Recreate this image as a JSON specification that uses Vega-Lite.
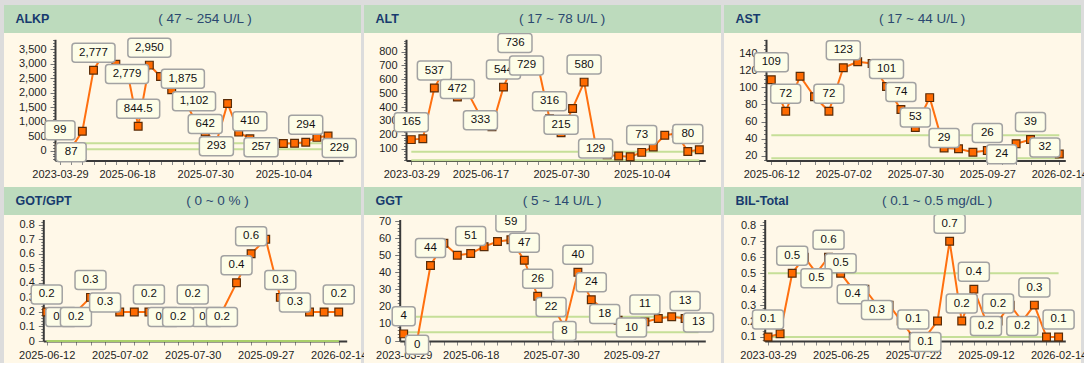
{
"$schema": "https://vega.github.io/schema/vega-lite/v6.json",
"background": "#dcdcdc",
"padding": {"left": 4, "top": 5, "right": 0, "bottom": 0},
"config": {"font": "Liberation Sans", "view": {"stroke": null}},
"columns": 3,
"bounds": "flush",
"spacing": {"row": 0, "column": 3},
"concat": [
{"width": 357, "height": 28, "view": {"fill": "#bddbbd", "stroke": null},
 "data": {"values": [{"name": "ALKP", "range": "( 47 ~ 254 U/L )"}]},
 "layer": [
  {"mark": {"type": "text", "align": "left", "baseline": "middle", "fontSize": 12.5, "fontWeight": "bold", "color": "#173a6e"}, "encoding": {"text": {"field": "name"}, "x": {"datum": 0.032, "type": "quantitative", "scale": {"domain": [0, 1], "nice": false}, "axis": null}}},
  {"mark": {"type": "text", "align": "center", "baseline": "middle", "fontSize": 13.5, "color": "#2b4870"}, "encoding": {"text": {"field": "range"}, "x": {"datum": 0.563, "type": "quantitative", "axis": null}}}
 ]},
{"width": 357, "height": 28, "view": {"fill": "#bddbbd", "stroke": null},
 "data": {"values": [{"name": "ALT", "range": "( 17 ~ 78 U/L )"}]},
 "layer": [
  {"mark": {"type": "text", "align": "left", "baseline": "middle", "fontSize": 12.5, "fontWeight": "bold", "color": "#173a6e"}, "encoding": {"text": {"field": "name"}, "x": {"datum": 0.032, "type": "quantitative", "scale": {"domain": [0, 1], "nice": false}, "axis": null}}},
  {"mark": {"type": "text", "align": "center", "baseline": "middle", "fontSize": 13.5, "color": "#2b4870"}, "encoding": {"text": {"field": "range"}, "x": {"datum": 0.555, "type": "quantitative", "axis": null}}}
 ]},
{"width": 357, "height": 28, "view": {"fill": "#bddbbd", "stroke": null},
 "data": {"values": [{"name": "AST", "range": "( 17 ~ 44 U/L )"}]},
 "layer": [
  {"mark": {"type": "text", "align": "left", "baseline": "middle", "fontSize": 12.5, "fontWeight": "bold", "color": "#173a6e"}, "encoding": {"text": {"field": "name"}, "x": {"datum": 0.032, "type": "quantitative", "scale": {"domain": [0, 1], "nice": false}, "axis": null}}},
  {"mark": {"type": "text", "align": "center", "baseline": "middle", "fontSize": 13.5, "color": "#2b4870"}, "encoding": {"text": {"field": "range"}, "x": {"datum": 0.555, "type": "quantitative", "axis": null}}}
 ]},
{"width": 357, "height": 154, "view": {"fill": "#fff8e8", "stroke": null},
 "data": {"values": [
  {"d":"2023-03-29","v":99,"lbl":"99"},{"d":"2025-06-02","v":87,"lbl":"87"},{"d":"2025-06-05","v":670},{"d":"2025-06-09","v":2777,"lbl":"2,777"},{"d":"2025-06-11","v":3408},{"d":"2025-06-14","v":2980},{"d":"2025-06-18","v":2779,"lbl":"2,779"},{"d":"2025-06-20","v":844.5,"lbl":"844.5"},{"d":"2025-06-23","v":2950,"lbl":"2,950"},{"d":"2025-06-26","v":2560},{"d":"2025-07-01","v":2100},{"d":"2025-07-07","v":1875,"lbl":"1,875"},{"d":"2025-07-16","v":1102,"lbl":"1,102"},{"d":"2025-07-30","v":642,"lbl":"642"},{"d":"2025-08-06","v":293,"lbl":"293"},{"d":"2025-08-13","v":1630},{"d":"2025-08-20","v":640},{"d":"2025-08-27","v":410,"lbl":"410"},{"d":"2025-09-03","v":257,"lbl":"257"},{"d":"2025-09-17","v":248},{"d":"2025-10-04","v":250},{"d":"2025-10-25","v":255},{"d":"2025-11-15","v":294,"lbl":"294"},{"d":"2025-12-06","v":460},{"d":"2026-01-10","v":510},{"d":"2026-02-14","v":229,"lbl":"229"}]},
 "encoding": {
  "x": {"field": "d", "type": "ordinal", "scale": {"type": "point", "range": [51, 339], "padding": 0.392, "align": 0.571},
   "axis": {"orient": "bottom", "offset": -26.5, "title": null, "labelAngle": 0, "labelOverlap": false, "labelExpr": "indexof(['2023-03-29','2025-06-18','2025-07-30','2025-10-04'], datum.label) >= 0 ? datum.label : ''", "tickSize": 4, "tickColor": "#8a8a8a", "domainColor": "#3a3a3a", "domainWidth": 2, "labelFontSize": 11, "labelColor": "#1e1e1e", "labelPadding": 4, "grid": false}},
  "y": {"field": "v", "type": "quantitative", "scale": {"domain": [-338, 3841], "range": [127.5, 6.3], "zero": false, "nice": false},
   "axis": {"orient": "left", "offset": -51, "title": null, "tickCount": 40, "labelOverlap": false, "labelExpr": "datum.value % 500 === 0 ? datum.label : ''", "tickSize": {"condition": {"test": "datum.value % 500 === 0", "value": 5}, "value": 2.5}, "tickColor": "#777777", "domainColor": "#3a3a3a", "domainWidth": 2, "labelFontSize": 11, "labelColor": "#1e1e1e", "labelPadding": 4, "grid": false}}
 },
 "layer": [
  {"data": {"values": [{"d": "2023-03-29", "v": 47, "g": "lo"}, {"d": "2026-02-14", "v": 47, "g": "lo"}, {"d": "2023-03-29", "v": 254, "g": "hi"}, {"d": "2026-02-14", "v": 254, "g": "hi"}]}, "mark": {"type": "line", "color": "#c6df98", "strokeWidth": 2, "clip": true}, "encoding": {"detail": {"field": "g"}}},
  {"mark": {"type": "line", "color": "#ff7010", "strokeWidth": 2, "clip": true}},
  {"mark": {"type": "point", "shape": "square", "filled": true, "size": 60, "fill": "#ff6a00", "stroke": "#5a2c08", "strokeWidth": 1.2, "opacity": 1, "clip": true}},
  {"transform": [{"filter": "isValid(datum.lbl) && indexof(['2025-06-02','2025-06-18','2025-08-06','2025-09-03','2026-02-14','2025-07-30'], datum.d) < 0"}],
   "mark": {"type": "point", "filled": true, "size": 10000, "fill": "#fdfde8", "stroke": "#a2a2a2", "strokeWidth": 1.5, "opacity": 1, "yOffset": -17.5, "clip": true},
   "encoding": {"shape": {"condition": [{"test": "length(datum.lbl) == 1", "value": "M-0.17,-0.19H0.17Q0.23,-0.19 0.23,-0.13V0.13Q0.23,0.19 0.17,0.19H-0.17Q-0.23,0.19 -0.23,0.13V-0.13Q-0.23,-0.19 -0.17,-0.19Z"}, {"test": "length(datum.lbl) == 2", "value": "M-0.24,-0.19H0.24Q0.3,-0.19 0.3,-0.13V0.13Q0.3,0.19 0.24,0.19H-0.24Q-0.3,0.19 -0.3,0.13V-0.13Q-0.3,-0.19 -0.24,-0.19Z"}, {"test": "length(datum.lbl) >= 5", "value": "M-0.37,-0.19H0.37Q0.43,-0.19 0.43,-0.13V0.13Q0.43,0.19 0.37,0.19H-0.37Q-0.43,0.19 -0.43,0.13V-0.13Q-0.43,-0.19 -0.37,-0.19Z"}, {"test": "indexof(datum.lbl, '.') >= 0", "value": "M-0.25,-0.19H0.25Q0.31,-0.19 0.31,-0.13V0.13Q0.31,0.19 0.25,0.19H-0.25Q-0.31,0.19 -0.31,0.13V-0.13Q-0.31,-0.19 -0.25,-0.19Z"}], "value": "M-0.28,-0.19H0.28Q0.34,-0.19 0.34,-0.13V0.13Q0.34,0.19 0.28,0.19H-0.28Q-0.34,0.19 -0.34,0.13V-0.13Q-0.34,-0.19 -0.28,-0.19Z"}}},
  {"transform": [{"filter": "isValid(datum.lbl) && indexof(['2025-06-02','2025-06-18','2025-08-06','2025-09-03','2026-02-14','2025-07-30'], datum.d) < 0"}],
   "mark": {"type": "text", "fontSize": 11.5, "color": "#111111", "baseline": "middle", "align": "center", "yOffset": -17.5, "clip": true}, "encoding": {"text": {"field": "lbl"}}},
  {"transform": [{"filter": "indexof(['2025-07-30'], datum.d) >= 0"}],
   "mark": {"type": "point", "filled": true, "size": 10000, "fill": "#fdfde8", "stroke": "#a2a2a2", "strokeWidth": 1.5, "opacity": 1, "yOffset": -8, "clip": true},
   "encoding": {"shape": {"value": "M-0.28,-0.19H0.28Q0.34,-0.19 0.34,-0.13V0.13Q0.34,0.19 0.28,0.19H-0.28Q-0.34,0.19 -0.34,0.13V-0.13Q-0.34,-0.19 -0.28,-0.19Z"}}},
  {"transform": [{"filter": "indexof(['2025-07-30'], datum.d) >= 0"}],
   "mark": {"type": "text", "fontSize": 11.5, "color": "#111111", "baseline": "middle", "align": "center", "yOffset": -8, "clip": true}, "encoding": {"text": {"field": "lbl"}}},
  {"transform": [{"filter": "indexof(['2025-06-02','2025-06-18','2025-08-06','2025-09-03','2026-02-14'], datum.d) >= 0"}],
   "mark": {"type": "point", "filled": true, "size": 10000, "fill": "#fdfde8", "stroke": "#a2a2a2", "strokeWidth": 1.5, "opacity": 1, "yOffset": 4, "clip": true},
   "encoding": {"shape": {"condition": [{"test": "length(datum.lbl) == 1", "value": "M-0.17,-0.19H0.17Q0.23,-0.19 0.23,-0.13V0.13Q0.23,0.19 0.17,0.19H-0.17Q-0.23,0.19 -0.23,0.13V-0.13Q-0.23,-0.19 -0.17,-0.19Z"}, {"test": "length(datum.lbl) == 2", "value": "M-0.24,-0.19H0.24Q0.3,-0.19 0.3,-0.13V0.13Q0.3,0.19 0.24,0.19H-0.24Q-0.3,0.19 -0.3,0.13V-0.13Q-0.3,-0.19 -0.24,-0.19Z"}, {"test": "length(datum.lbl) >= 5", "value": "M-0.37,-0.19H0.37Q0.43,-0.19 0.43,-0.13V0.13Q0.43,0.19 0.37,0.19H-0.37Q-0.43,0.19 -0.43,0.13V-0.13Q-0.43,-0.19 -0.37,-0.19Z"}, {"test": "indexof(datum.lbl, '.') >= 0", "value": "M-0.25,-0.19H0.25Q0.31,-0.19 0.31,-0.13V0.13Q0.31,0.19 0.25,0.19H-0.25Q-0.31,0.19 -0.31,0.13V-0.13Q-0.31,-0.19 -0.25,-0.19Z"}], "value": "M-0.28,-0.19H0.28Q0.34,-0.19 0.34,-0.13V0.13Q0.34,0.19 0.28,0.19H-0.28Q-0.34,0.19 -0.34,0.13V-0.13Q-0.34,-0.19 -0.28,-0.19Z"}}},
  {"transform": [{"filter": "indexof(['2025-06-02','2025-06-18','2025-08-06','2025-09-03','2026-02-14'], datum.d) >= 0"}],
   "mark": {"type": "text", "fontSize": 11.5, "color": "#111111", "baseline": "middle", "align": "center", "yOffset": 4, "clip": true}, "encoding": {"text": {"field": "lbl"}}}
 ]},
{"width": 357, "height": 154, "view": {"fill": "#fff8e8", "stroke": null},
 "data": {"values": [
  {"d":"2023-03-29","v":165,"lbl":"165"},{"d":"2025-06-02","v":172},{"d":"2025-06-05","v":537,"lbl":"537"},{"d":"2025-06-09","v":690},{"d":"2025-06-11","v":472,"lbl":"472"},{"d":"2025-06-14","v":490},{"d":"2025-06-17","v":333,"lbl":"333"},{"d":"2025-06-20","v":258},{"d":"2025-06-23","v":544,"lbl":"544"},{"d":"2025-06-26","v":736,"lbl":"736"},{"d":"2025-07-01","v":729,"lbl":"729"},{"d":"2025-07-07","v":700},{"d":"2025-07-16","v":316,"lbl":"316"},{"d":"2025-07-30","v":215,"lbl":"215"},{"d":"2025-08-06","v":390},{"d":"2025-08-13","v":580,"lbl":"580"},{"d":"2025-08-20","v":129,"lbl":"129"},{"d":"2025-08-27","v":55},{"d":"2025-09-03","v":47},{"d":"2025-09-17","v":42},{"d":"2025-10-04","v":73,"lbl":"73"},{"d":"2025-10-25","v":112},{"d":"2025-11-15","v":196},{"d":"2025-12-06","v":210},{"d":"2026-01-10","v":80,"lbl":"80"},{"d":"2026-02-14","v":92}]},
 "encoding": {
  "x": {"field": "d", "type": "ordinal", "scale": {"type": "point", "range": [42, 341.3], "padding": 0.49, "align": 0.47},
   "axis": {"orient": "bottom", "offset": -26.5, "title": null, "labelAngle": 0, "labelOverlap": false, "labelExpr": "indexof(['2023-03-29','2025-06-17','2025-07-30','2025-10-04'], datum.label) >= 0 ? datum.label : ''", "tickSize": 4, "tickColor": "#8a8a8a", "domainColor": "#3a3a3a", "domainWidth": 2, "labelFontSize": 11, "labelColor": "#1e1e1e", "labelPadding": 4, "grid": false}},
  "y": {"field": "v", "type": "quantitative", "scale": {"domain": [14.4, 888.9], "range": [127.5, 6.3], "zero": false, "nice": false},
   "axis": {"orient": "left", "offset": -42, "title": null, "tickCount": 40, "labelOverlap": false, "labelExpr": "datum.value % 100 === 0 ? datum.label : ''", "tickSize": {"condition": {"test": "datum.value % 100 === 0", "value": 5}, "value": 2.5}, "tickColor": "#777777", "domainColor": "#3a3a3a", "domainWidth": 2, "labelFontSize": 11, "labelColor": "#1e1e1e", "labelPadding": 4, "grid": false}}
 },
 "layer": [
  {"data": {"values": [{"d": "2023-03-29", "v": 17, "g": "lo"}, {"d": "2026-02-14", "v": 17, "g": "lo"}, {"d": "2023-03-29", "v": 78, "g": "hi"}, {"d": "2026-02-14", "v": 78, "g": "hi"}]}, "mark": {"type": "line", "color": "#c6df98", "strokeWidth": 2, "clip": true}, "encoding": {"detail": {"field": "g"}}},
  {"mark": {"type": "line", "color": "#ff7010", "strokeWidth": 2, "clip": true}},
  {"mark": {"type": "point", "shape": "square", "filled": true, "size": 60, "fill": "#ff6a00", "stroke": "#5a2c08", "strokeWidth": 1.2, "opacity": 1, "clip": true}},
  {"transform": [{"filter": "isValid(datum.lbl) && indexof(['2025-06-17','2025-07-01','2025-08-20','2025-06-11','2025-07-30'], datum.d) < 0"}],
   "mark": {"type": "point", "filled": true, "size": 10000, "fill": "#fdfde8", "stroke": "#a2a2a2", "strokeWidth": 1.5, "opacity": 1, "yOffset": -17.5, "clip": true},
   "encoding": {"shape": {"condition": [{"test": "length(datum.lbl) == 1", "value": "M-0.17,-0.19H0.17Q0.23,-0.19 0.23,-0.13V0.13Q0.23,0.19 0.17,0.19H-0.17Q-0.23,0.19 -0.23,0.13V-0.13Q-0.23,-0.19 -0.17,-0.19Z"}, {"test": "length(datum.lbl) == 2", "value": "M-0.24,-0.19H0.24Q0.3,-0.19 0.3,-0.13V0.13Q0.3,0.19 0.24,0.19H-0.24Q-0.3,0.19 -0.3,0.13V-0.13Q-0.3,-0.19 -0.24,-0.19Z"}], "value": "M-0.28,-0.19H0.28Q0.34,-0.19 0.34,-0.13V0.13Q0.34,0.19 0.28,0.19H-0.28Q-0.34,0.19 -0.34,0.13V-0.13Q-0.34,-0.19 -0.28,-0.19Z"}}},
  {"transform": [{"filter": "isValid(datum.lbl) && indexof(['2025-06-17','2025-07-01','2025-08-20','2025-06-11','2025-07-30'], datum.d) < 0"}],
   "mark": {"type": "text", "fontSize": 11.5, "color": "#111111", "baseline": "middle", "align": "center", "yOffset": -17.5, "clip": true}, "encoding": {"text": {"field": "lbl"}}},
  {"transform": [{"filter": "indexof(['2025-06-11','2025-07-30'], datum.d) >= 0"}],
   "mark": {"type": "point", "filled": true, "size": 10000, "fill": "#fdfde8", "stroke": "#a2a2a2", "strokeWidth": 1.5, "opacity": 1, "yOffset": -8, "clip": true},
   "encoding": {"shape": {"value": "M-0.28,-0.19H0.28Q0.34,-0.19 0.34,-0.13V0.13Q0.34,0.19 0.28,0.19H-0.28Q-0.34,0.19 -0.34,0.13V-0.13Q-0.34,-0.19 -0.28,-0.19Z"}}},
  {"transform": [{"filter": "indexof(['2025-06-11','2025-07-30'], datum.d) >= 0"}],
   "mark": {"type": "text", "fontSize": 11.5, "color": "#111111", "baseline": "middle", "align": "center", "yOffset": -8, "clip": true}, "encoding": {"text": {"field": "lbl"}}},
  {"transform": [{"filter": "indexof(['2025-06-17','2025-07-01','2025-08-20'], datum.d) >= 0"}],
   "mark": {"type": "point", "filled": true, "size": 10000, "fill": "#fdfde8", "stroke": "#a2a2a2", "strokeWidth": 1.5, "opacity": 1, "yOffset": 4, "clip": true},
   "encoding": {"shape": {"value": "M-0.28,-0.19H0.28Q0.34,-0.19 0.34,-0.13V0.13Q0.34,0.19 0.28,0.19H-0.28Q-0.34,0.19 -0.34,0.13V-0.13Q-0.34,-0.19 -0.28,-0.19Z"}}},
  {"transform": [{"filter": "indexof(['2025-06-17','2025-07-01','2025-08-20'], datum.d) >= 0"}],
   "mark": {"type": "text", "fontSize": 11.5, "color": "#111111", "baseline": "middle", "align": "center", "yOffset": 4, "clip": true}, "encoding": {"text": {"field": "lbl"}}}
 ]},
{"width": 357, "height": 154, "view": {"fill": "#fff8e8", "stroke": null},
 "data": {"values": [
  {"d":"2025-06-12","v":109,"lbl":"109"},{"d":"2025-06-14","v":72,"lbl":"72"},{"d":"2025-06-17","v":113},{"d":"2025-06-20","v":89},{"d":"2025-06-25","v":72,"lbl":"72"},{"d":"2025-07-02","v":123,"lbl":"123"},{"d":"2025-07-07","v":130},{"d":"2025-07-11","v":128},{"d":"2025-07-16","v":101,"lbl":"101"},{"d":"2025-07-23","v":74,"lbl":"74"},{"d":"2025-07-30","v":53,"lbl":"53"},{"d":"2025-08-06","v":88},{"d":"2025-08-13","v":29,"lbl":"29"},{"d":"2025-08-20","v":28},{"d":"2025-09-03","v":24},{"d":"2025-09-27","v":26,"lbl":"26"},{"d":"2025-10-25","v":24,"lbl":"24"},{"d":"2025-11-15","v":34},{"d":"2025-12-06","v":39,"lbl":"39"},{"d":"2026-01-10","v":32,"lbl":"32"},{"d":"2026-02-14","v":22}]},
 "encoding": {
  "x": {"field": "d", "type": "ordinal", "scale": {"type": "point", "range": [42, 341.3], "padding": 0.392, "align": 0.47},
   "axis": {"orient": "bottom", "offset": -26.5, "title": null, "labelAngle": 0, "labelOverlap": false, "labelExpr": "indexof(['2025-06-12','2025-07-02','2025-07-30','2025-09-27','2026-02-14'], datum.label) >= 0 ? datum.label : ''", "tickSize": 4, "tickColor": "#8a8a8a", "domainColor": "#3a3a3a", "domainWidth": 2, "labelFontSize": 11, "labelColor": "#1e1e1e", "labelPadding": 4, "grid": false}},
  "y": {"field": "v", "type": "quantitative", "scale": {"domain": [14.33, 156.3], "range": [127.5, 6.3], "zero": false, "nice": false},
   "axis": {"orient": "left", "offset": -42, "title": null, "tickCount": 40, "labelOverlap": false, "labelExpr": "datum.value % 20 === 0 ? datum.label : ''", "tickSize": {"condition": {"test": "datum.value % 20 === 0", "value": 5}, "value": 2.5}, "tickColor": "#777777", "domainColor": "#3a3a3a", "domainWidth": 2, "labelFontSize": 11, "labelColor": "#1e1e1e", "labelPadding": 4, "grid": false}}
 },
 "layer": [
  {"data": {"values": [{"d": "2025-06-12", "v": 17, "g": "lo"}, {"d": "2026-02-14", "v": 17, "g": "lo"}, {"d": "2025-06-12", "v": 44, "g": "hi"}, {"d": "2026-02-14", "v": 44, "g": "hi"}]}, "mark": {"type": "line", "color": "#c6df98", "strokeWidth": 2, "clip": true}, "encoding": {"detail": {"field": "g"}}},
  {"mark": {"type": "line", "color": "#ff7010", "strokeWidth": 2, "clip": true}},
  {"mark": {"type": "point", "shape": "square", "filled": true, "size": 60, "fill": "#ff6a00", "stroke": "#5a2c08", "strokeWidth": 1.2, "opacity": 1, "clip": true}},
  {"transform": [{"filter": "isValid(datum.lbl) && indexof(['2025-10-25','2026-01-10','2025-07-30','2025-08-13'], datum.d) < 0"}],
   "mark": {"type": "point", "filled": true, "size": 10000, "fill": "#fdfde8", "stroke": "#a2a2a2", "strokeWidth": 1.5, "opacity": 1, "yOffset": -17.5, "clip": true},
   "encoding": {"shape": {"condition": [{"test": "length(datum.lbl) == 2", "value": "M-0.24,-0.19H0.24Q0.3,-0.19 0.3,-0.13V0.13Q0.3,0.19 0.24,0.19H-0.24Q-0.3,0.19 -0.3,0.13V-0.13Q-0.3,-0.19 -0.24,-0.19Z"}], "value": "M-0.28,-0.19H0.28Q0.34,-0.19 0.34,-0.13V0.13Q0.34,0.19 0.28,0.19H-0.28Q-0.34,0.19 -0.34,0.13V-0.13Q-0.34,-0.19 -0.28,-0.19Z"}}},
  {"transform": [{"filter": "isValid(datum.lbl) && indexof(['2025-10-25','2026-01-10','2025-07-30','2025-08-13'], datum.d) < 0"}],
   "mark": {"type": "text", "fontSize": 11.5, "color": "#111111", "baseline": "middle", "align": "center", "yOffset": -17.5, "clip": true}, "encoding": {"text": {"field": "lbl"}}},
  {"transform": [{"filter": "indexof(['2025-07-30','2025-08-13'], datum.d) >= 0"}],
   "mark": {"type": "point", "filled": true, "size": 10000, "fill": "#fdfde8", "stroke": "#a2a2a2", "strokeWidth": 1.5, "opacity": 1, "yOffset": -10, "clip": true},
   "encoding": {"shape": {"value": "M-0.24,-0.19H0.24Q0.3,-0.19 0.3,-0.13V0.13Q0.3,0.19 0.24,0.19H-0.24Q-0.3,0.19 -0.3,0.13V-0.13Q-0.3,-0.19 -0.24,-0.19Z"}}},
  {"transform": [{"filter": "indexof(['2025-07-30','2025-08-13'], datum.d) >= 0"}],
   "mark": {"type": "text", "fontSize": 11.5, "color": "#111111", "baseline": "middle", "align": "center", "yOffset": -10, "clip": true}, "encoding": {"text": {"field": "lbl"}}},
  {"transform": [{"filter": "indexof(['2025-10-25','2026-01-10'], datum.d) >= 0"}],
   "mark": {"type": "point", "filled": true, "size": 10000, "fill": "#fdfde8", "stroke": "#a2a2a2", "strokeWidth": 1.5, "opacity": 1, "yOffset": 2, "clip": true},
   "encoding": {"shape": {"value": "M-0.24,-0.19H0.24Q0.3,-0.19 0.3,-0.13V0.13Q0.3,0.19 0.24,0.19H-0.24Q-0.3,0.19 -0.3,0.13V-0.13Q-0.3,-0.19 -0.24,-0.19Z"}}},
  {"transform": [{"filter": "indexof(['2025-10-25','2026-01-10'], datum.d) >= 0"}],
   "mark": {"type": "text", "fontSize": 11.5, "color": "#111111", "baseline": "middle", "align": "center", "yOffset": 2, "clip": true}, "encoding": {"text": {"field": "lbl"}}}
 ]},
{"width": 357, "height": 28, "view": {"fill": "#bddbbd", "stroke": null},
 "data": {"values": [{"name": "GOT/GPT", "range": "( 0 ~ 0 % )"}]},
 "layer": [
  {"mark": {"type": "text", "align": "left", "baseline": "middle", "fontSize": 12.5, "fontWeight": "bold", "color": "#173a6e"}, "encoding": {"text": {"field": "name"}, "x": {"datum": 0.032, "type": "quantitative", "scale": {"domain": [0, 1], "nice": false}, "axis": null}}},
  {"mark": {"type": "text", "align": "center", "baseline": "middle", "fontSize": 13.5, "color": "#2b4870"}, "encoding": {"text": {"field": "range"}, "x": {"datum": 0.598, "type": "quantitative", "axis": null}}}
 ]},
{"width": 357, "height": 28, "view": {"fill": "#bddbbd", "stroke": null},
 "data": {"values": [{"name": "GGT", "range": "( 5 ~ 14 U/L )"}]},
 "layer": [
  {"mark": {"type": "text", "align": "left", "baseline": "middle", "fontSize": 12.5, "fontWeight": "bold", "color": "#173a6e"}, "encoding": {"text": {"field": "name"}, "x": {"datum": 0.032, "type": "quantitative", "scale": {"domain": [0, 1], "nice": false}, "axis": null}}},
  {"mark": {"type": "text", "align": "center", "baseline": "middle", "fontSize": 13.5, "color": "#2b4870"}, "encoding": {"text": {"field": "range"}, "x": {"datum": 0.555, "type": "quantitative", "axis": null}}}
 ]},
{"width": 357, "height": 28, "view": {"fill": "#bddbbd", "stroke": null},
 "data": {"values": [{"name": "BIL-Total", "range": "( 0.1 ~ 0.5 mg/dL )"}]},
 "layer": [
  {"mark": {"type": "text", "align": "left", "baseline": "middle", "fontSize": 12.5, "fontWeight": "bold", "color": "#173a6e"}, "encoding": {"text": {"field": "name"}, "x": {"datum": 0.032, "type": "quantitative", "scale": {"domain": [0, 1], "nice": false}, "axis": null}}},
  {"mark": {"type": "text", "align": "center", "baseline": "middle", "fontSize": 13.5, "color": "#2b4870"}, "encoding": {"text": {"field": "range"}, "x": {"datum": 0.597, "type": "quantitative", "axis": null}}}
 ]},
{"width": 357, "height": 148, "view": {"fill": "#fff8e8", "stroke": null},
 "data": {"values": [
  {"d":"2025-06-12","v":0.2,"lbl":"0.2"},{"d":"2025-06-14","v":0.2,"lbl":"0.2"},{"d":"2025-06-17","v":0.2,"lbl":"0.2"},{"d":"2025-06-20","v":0.3,"lbl":"0.3"},{"d":"2025-06-25","v":0.3,"lbl":"0.3"},{"d":"2025-07-02","v":0.2},{"d":"2025-07-07","v":0.2},{"d":"2025-07-11","v":0.2,"lbl":"0.2"},{"d":"2025-07-16","v":0.2,"lbl":"0.2"},{"d":"2025-07-23","v":0.2,"lbl":"0.2"},{"d":"2025-07-30","v":0.2,"lbl":"0.2"},{"d":"2025-08-06","v":0.2,"lbl":"0.2"},{"d":"2025-08-13","v":0.2,"lbl":"0.2"},{"d":"2025-08-20","v":0.4,"lbl":"0.4"},{"d":"2025-09-03","v":0.6,"lbl":"0.6"},{"d":"2025-09-27","v":0.7},{"d":"2025-10-25","v":0.3,"lbl":"0.3"},{"d":"2025-11-15","v":0.3,"lbl":"0.3"},{"d":"2025-12-06","v":0.2},{"d":"2026-01-10","v":0.2},{"d":"2026-02-14","v":0.2,"lbl":"0.2"}]},
 "encoding": {
  "x": {"field": "d", "type": "ordinal", "scale": {"type": "point", "range": [39.3, 342.7], "padding": 0.39, "align": 0.3},
   "axis": {"orient": "bottom", "offset": -22, "title": null, "labelAngle": 0, "labelOverlap": false, "labelExpr": "indexof(['2025-06-12','2025-07-02','2025-07-30','2025-09-27','2026-02-14'], datum.label) >= 0 ? datum.label : ''", "tickSize": 4, "tickColor": "#8a8a8a", "domainColor": "#3a3a3a", "domainWidth": 2, "labelFontSize": 11, "labelColor": "#1e1e1e", "labelPadding": 4, "grid": false}},
  "y": {"field": "v", "type": "quantitative", "scale": {"domain": [0, 0.8356], "range": [126, 4.5], "zero": false, "nice": false},
   "axis": {"orient": "left", "offset": -39.3, "title": null, "tickCount": 40, "labelOverlap": false, "labelExpr": "abs(datum.value*10 - round(datum.value*10)) < 0.000001 ? format(datum.value, '~g') : ''", "tickSize": {"condition": {"test": "abs(datum.value*10 - round(datum.value*10)) < 0.000001", "value": 5}, "value": 2.5}, "tickColor": "#777777", "domainColor": "#3a3a3a", "domainWidth": 2, "labelFontSize": 11, "labelColor": "#1e1e1e", "labelPadding": 4, "grid": false}}
 },
 "layer": [
  {"data": {"values": [{"d": "2025-06-12", "v": 0, "g": "lo"}, {"d": "2026-02-14", "v": 0, "g": "lo"}, {"d": "2025-06-12", "v": 0, "g": "hi"}, {"d": "2026-02-14", "v": 0, "g": "hi"}]}, "mark": {"type": "line", "color": "#a9cf6a", "strokeWidth": 2, "clip": true}, "encoding": {"detail": {"field": "g"}}},
  {"mark": {"type": "line", "color": "#ff7010", "strokeWidth": 2, "clip": true}},
  {"mark": {"type": "point", "shape": "square", "filled": true, "size": 60, "fill": "#ff6a00", "stroke": "#5a2c08", "strokeWidth": 1.2, "opacity": 1, "clip": true}},
  {"transform": [{"filter": "isValid(datum.lbl) && indexof(['2025-06-14','2025-07-16','2025-08-06','2025-06-17','2025-06-25','2025-07-23','2025-08-13','2025-11-15'], datum.d) < 0"}],
   "mark": {"type": "point", "filled": true, "size": 10000, "fill": "#fdfde8", "stroke": "#a2a2a2", "strokeWidth": 1.5, "opacity": 1, "yOffset": -17.5, "clip": true},
   "encoding": {"shape": {"value": "M-0.25,-0.19H0.25Q0.31,-0.19 0.31,-0.13V0.13Q0.31,0.19 0.25,0.19H-0.25Q-0.31,0.19 -0.31,0.13V-0.13Q-0.31,-0.19 -0.25,-0.19Z"}}},
  {"transform": [{"filter": "isValid(datum.lbl) && indexof(['2025-06-14','2025-07-16','2025-08-06','2025-06-17','2025-06-25','2025-07-23','2025-08-13','2025-11-15'], datum.d) < 0"}],
   "mark": {"type": "text", "fontSize": 11.5, "color": "#111111", "baseline": "middle", "align": "center", "yOffset": -17.5, "clip": true}, "encoding": {"text": {"field": "lbl"}}},
  {"transform": [{"filter": "indexof(['2025-06-14','2025-07-16','2025-08-06'], datum.d) >= 0"}],
   "mark": {"type": "point", "filled": true, "size": 10000, "fill": "#fdfde8", "stroke": "#a2a2a2", "strokeWidth": 1.5, "opacity": 1, "yOffset": 5, "clip": true},
   "encoding": {"shape": {"value": "M-0.25,-0.19H0.25Q0.31,-0.19 0.31,-0.13V0.13Q0.31,0.19 0.25,0.19H-0.25Q-0.31,0.19 -0.31,0.13V-0.13Q-0.31,-0.19 -0.25,-0.19Z"}}},
  {"transform": [{"filter": "indexof(['2025-06-14','2025-07-16','2025-08-06'], datum.d) >= 0"}],
   "mark": {"type": "text", "fontSize": 11.5, "color": "#111111", "baseline": "middle", "align": "center", "yOffset": 5, "clip": true}, "encoding": {"text": {"field": "lbl"}}},
  {"transform": [{"filter": "indexof(['2025-06-17','2025-06-25','2025-07-23','2025-08-13','2025-11-15'], datum.d) >= 0"}],
   "mark": {"type": "point", "filled": true, "size": 10000, "fill": "#fdfde8", "stroke": "#a2a2a2", "strokeWidth": 1.5, "opacity": 1, "yOffset": 5, "clip": true},
   "encoding": {"shape": {"value": "M-0.25,-0.19H0.25Q0.31,-0.19 0.31,-0.13V0.13Q0.31,0.19 0.25,0.19H-0.25Q-0.31,0.19 -0.31,0.13V-0.13Q-0.31,-0.19 -0.25,-0.19Z"}}},
  {"transform": [{"filter": "indexof(['2025-06-17','2025-06-25','2025-07-23','2025-08-13','2025-11-15'], datum.d) >= 0"}],
   "mark": {"type": "text", "fontSize": 11.5, "color": "#111111", "baseline": "middle", "align": "center", "yOffset": 5, "clip": true}, "encoding": {"text": {"field": "lbl"}}}
 ]},
{"width": 357, "height": 148, "view": {"fill": "#fff8e8", "stroke": null},
 "data": {"values": [
  {"d":"2023-03-29","v":4,"lbl":"4"},{"d":"2025-06-02","v":0,"lbl":"0"},{"d":"2025-06-05","v":44,"lbl":"44"},{"d":"2025-06-09","v":57},{"d":"2025-06-12","v":50},{"d":"2025-06-18","v":51,"lbl":"51"},{"d":"2025-06-20","v":55},{"d":"2025-06-23","v":58},{"d":"2025-06-26","v":59,"lbl":"59"},{"d":"2025-07-02","v":47,"lbl":"47"},{"d":"2025-07-16","v":26,"lbl":"26"},{"d":"2025-07-30","v":22,"lbl":"22"},{"d":"2025-08-06","v":8,"lbl":"8"},{"d":"2025-08-13","v":40,"lbl":"40"},{"d":"2025-08-20","v":24,"lbl":"24"},{"d":"2025-09-03","v":18,"lbl":"18"},{"d":"2025-09-17","v":12},{"d":"2025-09-27","v":10,"lbl":"10"},{"d":"2025-10-25","v":11,"lbl":"11"},{"d":"2025-11-15","v":13},{"d":"2025-12-06","v":14},{"d":"2026-01-10","v":13,"lbl":"13"},{"d":"2026-02-14","v":13,"lbl":"13"}]},
 "encoding": {
  "x": {"field": "d", "type": "ordinal", "scale": {"type": "point", "range": [35.7, 341.3], "padding": 0.403, "align": 0.37},
   "axis": {"orient": "bottom", "offset": -22, "title": null, "labelAngle": 0, "labelOverlap": false, "labelExpr": "indexof(['2023-03-29','2025-06-18','2025-07-30','2025-09-27'], datum.label) >= 0 ? datum.label : ''", "tickSize": 4, "tickColor": "#8a8a8a", "domainColor": "#3a3a3a", "domainWidth": 2, "labelFontSize": 11, "labelColor": "#1e1e1e", "labelPadding": 4, "grid": false}},
  "y": {"field": "v", "type": "quantitative", "scale": {"domain": [-0.175, 70.88], "range": [126, 4.5], "zero": false, "nice": false},
   "axis": {"orient": "left", "offset": -35.7, "title": null, "tickCount": 40, "labelOverlap": false, "labelExpr": "datum.value % 10 === 0 ? datum.label : ''", "tickSize": {"condition": {"test": "datum.value % 10 === 0", "value": 5}, "value": 2.5}, "tickColor": "#777777", "domainColor": "#3a3a3a", "domainWidth": 2, "labelFontSize": 11, "labelColor": "#1e1e1e", "labelPadding": 4, "grid": false}}
 },
 "layer": [
  {"data": {"values": [{"d": "2023-03-29", "v": 5, "g": "lo"}, {"d": "2026-02-14", "v": 5, "g": "lo"}, {"d": "2023-03-29", "v": 14, "g": "hi"}, {"d": "2026-02-14", "v": 14, "g": "hi"}]}, "mark": {"type": "line", "color": "#c6df98", "strokeWidth": 2, "clip": true}, "encoding": {"detail": {"field": "g"}}},
  {"mark": {"type": "line", "color": "#ff7010", "strokeWidth": 2, "clip": true}},
  {"mark": {"type": "point", "shape": "square", "filled": true, "size": 60, "fill": "#ff6a00", "stroke": "#5a2c08", "strokeWidth": 1.2, "opacity": 1, "clip": true}},
  {"transform": [{"filter": "isValid(datum.lbl) && indexof(['2025-06-02','2025-07-30','2025-08-06','2025-09-03','2025-09-27','2026-02-14'], datum.d) < 0"}],
   "mark": {"type": "point", "filled": true, "size": 10000, "fill": "#fdfde8", "stroke": "#a2a2a2", "strokeWidth": 1.5, "opacity": 1, "yOffset": -17.5, "clip": true},
   "encoding": {"shape": {"condition": [{"test": "length(datum.lbl) == 1", "value": "M-0.17,-0.19H0.17Q0.23,-0.19 0.23,-0.13V0.13Q0.23,0.19 0.17,0.19H-0.17Q-0.23,0.19 -0.23,0.13V-0.13Q-0.23,-0.19 -0.17,-0.19Z"}], "value": "M-0.24,-0.19H0.24Q0.3,-0.19 0.3,-0.13V0.13Q0.3,0.19 0.24,0.19H-0.24Q-0.3,0.19 -0.3,0.13V-0.13Q-0.3,-0.19 -0.24,-0.19Z"}}},
  {"transform": [{"filter": "isValid(datum.lbl) && indexof(['2025-06-02','2025-07-30','2025-08-06','2025-09-03','2025-09-27','2026-02-14'], datum.d) < 0"}],
   "mark": {"type": "text", "fontSize": 11.5, "color": "#111111", "baseline": "middle", "align": "center", "yOffset": -17.5, "clip": true}, "encoding": {"text": {"field": "lbl"}}},
  {"transform": [{"filter": "indexof(['2025-06-02','2025-07-30','2025-08-06','2025-09-03','2025-09-27','2026-02-14'], datum.d) >= 0"}],
   "mark": {"type": "point", "filled": true, "size": 10000, "fill": "#fdfde8", "stroke": "#a2a2a2", "strokeWidth": 1.5, "opacity": 1, "yOffset": 4, "clip": true},
   "encoding": {"shape": {"condition": [{"test": "length(datum.lbl) == 1", "value": "M-0.17,-0.19H0.17Q0.23,-0.19 0.23,-0.13V0.13Q0.23,0.19 0.17,0.19H-0.17Q-0.23,0.19 -0.23,0.13V-0.13Q-0.23,-0.19 -0.17,-0.19Z"}], "value": "M-0.24,-0.19H0.24Q0.3,-0.19 0.3,-0.13V0.13Q0.3,0.19 0.24,0.19H-0.24Q-0.3,0.19 -0.3,0.13V-0.13Q-0.3,-0.19 -0.24,-0.19Z"}}},
  {"transform": [{"filter": "indexof(['2025-06-02','2025-07-30','2025-08-06','2025-09-03','2025-09-27','2026-02-14'], datum.d) >= 0"}],
   "mark": {"type": "text", "fontSize": 11.5, "color": "#111111", "baseline": "middle", "align": "center", "yOffset": 4, "clip": true}, "encoding": {"text": {"field": "lbl"}}}
 ]},
{"width": 357, "height": 148, "view": {"fill": "#fff8e8", "stroke": null},
 "data": {"values": [
  {"d":"2023-03-29","v":0.1,"lbl":"0.1"},{"d":"2025-06-02","v":0.12},{"d":"2025-06-05","v":0.5,"lbl":"0.5"},{"d":"2025-06-09","v":0.6},{"d":"2025-06-12","v":0.5,"lbl":"0.5"},{"d":"2025-06-18","v":0.6,"lbl":"0.6"},{"d":"2025-06-25","v":0.5,"lbl":"0.5"},{"d":"2025-07-01","v":0.4,"lbl":"0.4"},{"d":"2025-07-07","v":0.4},{"d":"2025-07-11","v":0.3,"lbl":"0.3"},{"d":"2025-07-14","v":0.3},{"d":"2025-07-18","v":0.2},{"d":"2025-07-22","v":0.1,"lbl":"0.1"},{"d":"2025-07-30","v":0.1,"lbl":"0.1"},{"d":"2025-08-06","v":0.2},{"d":"2025-08-13","v":0.7,"lbl":"0.7"},{"d":"2025-08-20","v":0.2,"lbl":"0.2"},{"d":"2025-08-27","v":0.4,"lbl":"0.4"},{"d":"2025-09-12","v":0.2,"lbl":"0.2"},{"d":"2025-10-04","v":0.2,"lbl":"0.2"},{"d":"2025-10-25","v":0.3},{"d":"2025-11-15","v":0.2,"lbl":"0.2"},{"d":"2025-12-06","v":0.3,"lbl":"0.3"},{"d":"2026-01-10","v":0.1},{"d":"2026-02-14","v":0.1,"lbl":"0.1"}]},
 "encoding": {
  "x": {"field": "d", "type": "ordinal", "scale": {"type": "point", "range": [40.7, 341.3], "padding": 0.413, "align": 0.33},
   "axis": {"orient": "bottom", "offset": -22, "title": null, "labelAngle": 0, "labelOverlap": false, "labelExpr": "indexof(['2023-03-29','2025-06-25','2025-07-22','2025-09-12','2026-02-14'], datum.label) >= 0 ? datum.label : ''", "tickSize": 4, "tickColor": "#8a8a8a", "domainColor": "#3a3a3a", "domainWidth": 2, "labelFontSize": 11, "labelColor": "#1e1e1e", "labelPadding": 4, "grid": false}},
  "y": {"field": "v", "type": "quantitative", "scale": {"domain": [0.0749, 0.8367], "range": [126, 4.5], "zero": false, "nice": false},
   "axis": {"orient": "left", "offset": -40.7, "title": null, "tickCount": 40, "labelOverlap": false, "labelExpr": "abs(datum.value*10 - round(datum.value*10)) < 0.000001 ? format(datum.value, '~g') : ''", "tickSize": {"condition": {"test": "abs(datum.value*10 - round(datum.value*10)) < 0.000001", "value": 5}, "value": 2.5}, "tickColor": "#777777", "domainColor": "#3a3a3a", "domainWidth": 2, "labelFontSize": 11, "labelColor": "#1e1e1e", "labelPadding": 4, "grid": false}}
 },
 "layer": [
  {"data": {"values": [{"d": "2023-03-29", "v": 0.1, "g": "lo"}, {"d": "2026-02-14", "v": 0.1, "g": "lo"}, {"d": "2023-03-29", "v": 0.5, "g": "hi"}, {"d": "2026-02-14", "v": 0.5, "g": "hi"}]}, "mark": {"type": "line", "color": "#c6df98", "strokeWidth": 2, "clip": true}, "encoding": {"detail": {"field": "g"}}},
  {"mark": {"type": "line", "color": "#ff7010", "strokeWidth": 2, "clip": true}},
  {"mark": {"type": "point", "shape": "square", "filled": true, "size": 60, "fill": "#ff6a00", "stroke": "#5a2c08", "strokeWidth": 1.2, "opacity": 1, "clip": true}},
  {"transform": [{"filter": "isValid(datum.lbl) && indexof(['2025-06-12','2025-07-01','2025-07-11','2025-07-30','2025-09-12','2025-11-15','2025-06-25'], datum.d) < 0"}],
   "mark": {"type": "point", "filled": true, "size": 10000, "fill": "#fdfde8", "stroke": "#a2a2a2", "strokeWidth": 1.5, "opacity": 1, "yOffset": -17.5, "clip": true},
   "encoding": {"shape": {"value": "M-0.25,-0.19H0.25Q0.31,-0.19 0.31,-0.13V0.13Q0.31,0.19 0.25,0.19H-0.25Q-0.31,0.19 -0.31,0.13V-0.13Q-0.31,-0.19 -0.25,-0.19Z"}}},
  {"transform": [{"filter": "isValid(datum.lbl) && indexof(['2025-06-12','2025-07-01','2025-07-11','2025-07-30','2025-09-12','2025-11-15','2025-06-25'], datum.d) < 0"}],
   "mark": {"type": "text", "fontSize": 11.5, "color": "#111111", "baseline": "middle", "align": "center", "yOffset": -17.5, "clip": true}, "encoding": {"text": {"field": "lbl"}}},
  {"transform": [{"filter": "indexof(['2025-06-25'], datum.d) >= 0"}],
   "mark": {"type": "point", "filled": true, "size": 10000, "fill": "#fdfde8", "stroke": "#a2a2a2", "strokeWidth": 1.5, "opacity": 1, "yOffset": -10, "clip": true},
   "encoding": {"shape": {"value": "M-0.25,-0.19H0.25Q0.31,-0.19 0.31,-0.13V0.13Q0.31,0.19 0.25,0.19H-0.25Q-0.31,0.19 -0.31,0.13V-0.13Q-0.31,-0.19 -0.25,-0.19Z"}}},
  {"transform": [{"filter": "indexof(['2025-06-25'], datum.d) >= 0"}],
   "mark": {"type": "text", "fontSize": 11.5, "color": "#111111", "baseline": "middle", "align": "center", "yOffset": -10, "clip": true}, "encoding": {"text": {"field": "lbl"}}},
  {"transform": [{"filter": "indexof(['2025-06-12','2025-07-01','2025-07-11','2025-07-30','2025-09-12','2025-11-15'], datum.d) >= 0"}],
   "mark": {"type": "point", "filled": true, "size": 10000, "fill": "#fdfde8", "stroke": "#a2a2a2", "strokeWidth": 1.5, "opacity": 1, "yOffset": 5, "clip": true},
   "encoding": {"shape": {"value": "M-0.25,-0.19H0.25Q0.31,-0.19 0.31,-0.13V0.13Q0.31,0.19 0.25,0.19H-0.25Q-0.31,0.19 -0.31,0.13V-0.13Q-0.31,-0.19 -0.25,-0.19Z"}}},
  {"transform": [{"filter": "indexof(['2025-06-12','2025-07-01','2025-07-11','2025-07-30','2025-09-12','2025-11-15'], datum.d) >= 0"}],
   "mark": {"type": "text", "fontSize": 11.5, "color": "#111111", "baseline": "middle", "align": "center", "yOffset": 5, "clip": true}, "encoding": {"text": {"field": "lbl"}}}
 ]}
]
}
